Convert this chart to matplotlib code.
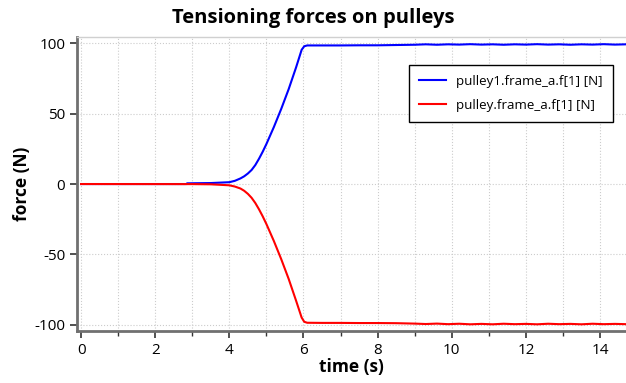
import numpy as np
import matplotlib
matplotlib.use("Agg")
import matplotlib.pyplot as plt
from matplotlib.ticker import MultipleLocator

plt.rcParams['font.family'] = ['Open Sans', 'DejaVu Sans']
plt.rcParams['axes.unicode_minus'] = False

# -- data (time in s, force in N) --
t_pulley1 = [0.0, 2.84, 2.86, 3.5, 4.0, 4.15, 4.3, 4.4, 4.5, 4.6, 4.7, 4.8, 4.9, 5.0,
             5.2, 5.4, 5.6, 5.8, 5.95, 6.02, 6.1, 6.5, 7.0, 7.5, 8.0, 8.5, 9.0, 9.3,
             9.6, 9.9, 10.2, 10.5, 10.8, 11.1, 11.4, 11.7, 12.0, 12.3, 12.6, 12.9,
             13.2, 13.5, 13.8, 14.1, 14.4, 14.7]
f_pulley1 = [0.0, 0.0, 0.5, 0.7, 1.3, 2.3, 4.0, 5.5, 7.5, 10.0, 13.5, 18.0, 23.0, 28.5,
             40.5, 53.5, 67.5, 83.0, 95.5, 98.0, 98.6, 98.6, 98.6, 98.7, 98.7, 98.9,
             99.1, 99.4, 99.1, 99.4, 99.2, 99.5, 99.2, 99.4, 99.1, 99.4, 99.2, 99.5,
             99.2, 99.4, 99.1, 99.4, 99.2, 99.5, 99.2, 99.4]

t_pulley = [0.0, 3.0, 3.5, 4.0, 4.15, 4.3, 4.4, 4.5, 4.6, 4.7, 4.8, 4.9, 5.0, 5.2,
            5.4, 5.6, 5.8, 5.95, 6.02, 6.1, 6.5, 7.0, 7.5, 8.0, 8.5, 9.0, 9.3, 9.6,
            9.9, 10.2, 10.5, 10.8, 11.1, 11.4, 11.7, 12.0, 12.3, 12.6, 12.9, 13.2,
            13.5, 13.8, 14.1, 14.4, 14.7]
f_pulley = [0.0, -0.05, -0.2, -0.9, -1.8, -3.2, -4.8, -7.0, -9.8, -13.5, -18.0, -23.0,
            -28.5, -40.5, -53.5, -67.5, -83.0, -95.0, -98.0, -98.7, -98.8, -98.8,
            -98.9, -98.9, -99.0, -99.3, -99.6, -99.3, -99.7, -99.4, -99.8, -99.5,
            -99.8, -99.4, -99.7, -99.5, -99.8, -99.4, -99.7, -99.5, -99.8, -99.4,
            -99.7, -99.5, -99.7]

fig = plt.figure(figsize=(6.26, 3.83), dpi=100)
ax = fig.add_axes([0.123, 0.136, 0.877, 0.767])

ax.plot(t_pulley1, f_pulley1, color='#0000ff', lw=1.5, label='pulley1.frame_a.f[1] [N]')
ax.plot(t_pulley, f_pulley, color='#ff0000', lw=1.5, label='pulley.frame_a.f[1] [N]')

ax.set_xlim(-0.11, 14.7)
ax.set_ylim(-104.5, 104.5)
ax.xaxis.set_major_locator(MultipleLocator(2))
ax.xaxis.set_minor_locator(MultipleLocator(1))
ax.set_yticks([-100, -50, 0, 50, 100])

ax.grid(True, which='both', axis='x', color='#cccccc', ls=':', lw=0.8)
ax.grid(True, which='major', axis='y', color='#cccccc', ls=':', lw=0.8)

for s in ['left', 'bottom']:
    ax.spines[s].set_color('#707070')
    ax.spines[s].set_linewidth(2)
ax.spines['top'].set_color('#d0d0d0')
ax.spines['top'].set_linewidth(1)
ax.spines['right'].set_visible(False)

ax.tick_params(axis='both', which='major', direction='out', length=5, width=1.2,
               color='#333333', labelsize=11)
ax.tick_params(axis='x', which='minor', direction='out', length=3.5, width=1, color='#333333')

fig.suptitle('Tensioning forces on pulleys', fontsize=14.5, fontweight='bold',
             x=0.5, y=0.978, va='top')
ax.set_xlabel('time (s)', fontsize=12.5, fontweight='bold', labelpad=0)
ax.set_ylabel('force (N)', fontsize=12.5, fontweight='bold', labelpad=2)

leg = ax.legend(loc='upper right', bbox_to_anchor=(0.976, 0.905), fontsize=9.6,
                fancybox=False, edgecolor='black', framealpha=1, borderaxespad=0,
                handlelength=2.0, borderpad=0.75, labelspacing=0.8)
leg.get_frame().set_linewidth(1)

fig.savefig('out.png', dpi=100)
